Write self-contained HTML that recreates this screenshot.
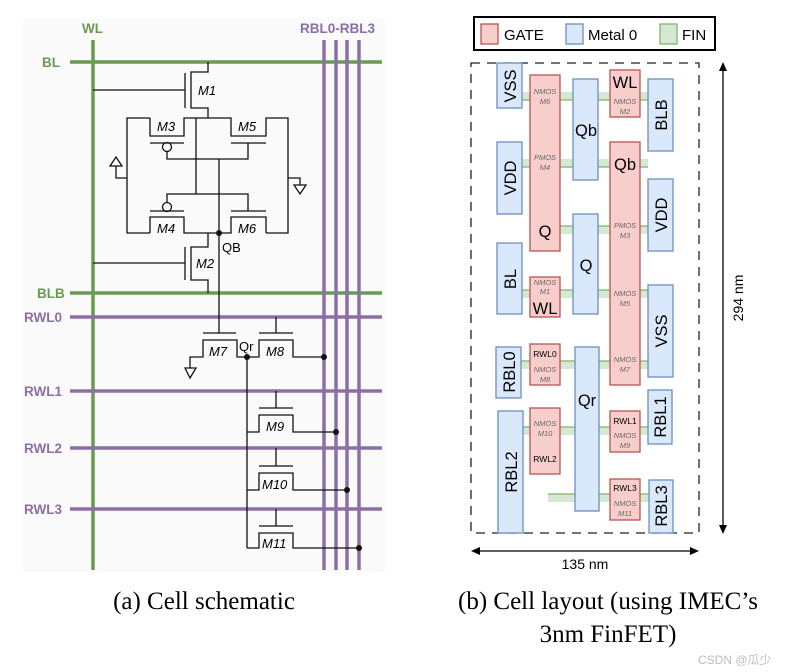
<!DOCTYPE html>
<html><head><meta charset="utf-8"><style>
html,body{margin:0;padding:0;background:#fff;}
svg{display:block;}
.lb{font-family:"Liberation Sans",sans-serif;font-weight:bold;font-size:13.5px;}
.m{font-family:"Liberation Sans",sans-serif;font-style:italic;font-size:13px;}
.t{font-family:"Liberation Sans",sans-serif;}
.g{fill:#f8cecc;stroke:#b85450;stroke-width:1.3;}
.b{fill:#dae8fc;stroke:#6c8ebf;stroke-width:1.3;}
.f{fill:#d5e8d4;}
.fl{stroke:#82b366;stroke-width:1.2;}
.s{font-family:"Liberation Sans",sans-serif;font-style:italic;font-size:7.5px;fill:#666;}
</style></head><body>
<svg width="786" height="672" viewBox="0 0 786 672" xmlns="http://www.w3.org/2000/svg">
<rect x="23" y="18" width="362" height="554" fill="#fafafa"/>
<g stroke="#6b9a52" stroke-width="3.5">
<line x1="93" y1="40" x2="93" y2="570"/>
<line x1="70" y1="62" x2="382" y2="62"/>
<line x1="70" y1="293" x2="382" y2="293"/>
</g>
<g stroke="#8b6fa5" stroke-width="3.5">
<line x1="70" y1="317" x2="382" y2="317"/>
<line x1="70" y1="391" x2="382" y2="391"/>
<line x1="70" y1="448" x2="382" y2="448"/>
<line x1="70" y1="509" x2="382" y2="509"/>
<line x1="324" y1="40" x2="324" y2="570"/>
<line x1="336" y1="40" x2="336" y2="570"/>
<line x1="347" y1="40" x2="347" y2="570"/>
<line x1="359" y1="40" x2="359" y2="570"/>
</g>
<text class="lb" x="82" y="33" fill="#6b9a52">WL</text>
<text class="lb" x="42" y="67" fill="#6b9a52">BL</text>
<text class="lb" x="37" y="298" fill="#6b9a52">BLB</text>
<text class="lb" x="300" y="33" fill="#8b6fa5">RBL0-RBL3</text>
<text class="lb" x="24" y="322" fill="#8b6fa5">RWL0</text>
<text class="lb" x="24" y="396" fill="#8b6fa5">RWL1</text>
<text class="lb" x="24" y="453" fill="#8b6fa5">RWL2</text>
<text class="lb" x="24" y="514" fill="#8b6fa5">RWL3</text>
<g stroke="#111" stroke-width="1.3" fill="none">
<polyline points="208,62 208,72 191,72 191,108 208,108 208,118"/>
<line x1="185" y1="73" x2="185" y2="108"/>
<line x1="93" y1="90" x2="185" y2="90"/>
<polyline points="150,118 127,118 127,233 150,233"/>
<polyline points="150,118 150,136 184,136 184,118 231,118 231,136 266,136 266,118 288,118 288,233 266,233"/>
<line x1="150" y1="143" x2="184" y2="143"/>
<line x1="231" y1="143" x2="266" y2="143"/>
<circle cx="167" cy="147" r="4.5"/>
<polyline points="167,151 167,159 248,159 248,143"/>
<line x1="196" y1="118" x2="196" y2="194"/>
<line x1="219" y1="159" x2="219" y2="333"/>
<polyline points="167,203 167,194 248,194 248,211"/>
<circle cx="167" cy="207" r="4.5"/>
<line x1="150" y1="211" x2="184" y2="211"/>
<line x1="231" y1="211" x2="266" y2="211"/>
<polyline points="150,233 150,217 184,217 184,233 231,233 231,217 266,217 266,233"/>
<polyline points="127,178 116,178 116,166"/>
<polygon points="110,166 122,166 116,157"/>
<polyline points="288,178 300,178 300,185"/>
<polygon points="294,185 306,185 300,194"/>
<polyline points="208,233 208,247 191,247 191,280 208,280 208,293"/>
<line x1="185" y1="247" x2="185" y2="280"/>
<line x1="93" y1="263" x2="185" y2="263"/>
<line x1="203" y1="333" x2="236" y2="333"/>
<polyline points="190,368 190,357 203,357 203,340 237,340 237,357 259,357 259,340 293,340 293,357 324,357"/>
<polygon points="185,368 196,368 190,378"/>
<line x1="276" y1="317" x2="276" y2="333"/>
<line x1="259" y1="333" x2="293" y2="333"/>
<line x1="247" y1="357" x2="247" y2="548"/>
<line x1="276" y1="391" x2="276" y2="408"/><line x1="259" y1="408" x2="293" y2="408"/>
<polyline points="247,432 259,432 259,415 293,415 293,432 336,432"/>
<line x1="276" y1="448" x2="276" y2="466"/><line x1="259" y1="466" x2="293" y2="466"/>
<polyline points="247,490 259,490 259,473 293,473 293,490 347,490"/>
<line x1="276" y1="509" x2="276" y2="526"/><line x1="259" y1="526" x2="293" y2="526"/>
<polyline points="247,548 259,548 259,533 293,533 293,548 359,548"/>
</g>
<g fill="#111">
<circle cx="219" cy="233" r="3"/><circle cx="247" cy="357" r="3"/>
<circle cx="324" cy="357" r="3"/><circle cx="336" cy="432" r="3"/>
<circle cx="347" cy="490" r="3"/><circle cx="359" cy="548" r="3"/>
</g>
<text class="m" x="198" y="95">M1</text>
<text class="m" x="157" y="131">M3</text>
<text class="m" x="238" y="131">M5</text>
<text class="m" x="157" y="233">M4</text>
<text class="m" x="238" y="233">M6</text>
<text class="t" x="222" y="252" font-size="13">QB</text>
<text class="m" x="196" y="268">M2</text>
<text class="m" x="209" y="356">M7</text>
<text class="t" x="239" y="351" font-size="13">Qr</text>
<text class="m" x="266" y="356">M8</text>
<text class="m" x="266" y="431">M9</text>
<text class="m" x="262" y="489">M10</text>
<text class="m" x="262" y="548">M11</text>
<text x="204" y="609" text-anchor="middle" font-family="Liberation Serif,serif" font-size="25">(a) Cell schematic</text>

<rect x="474" y="17" width="241" height="33" fill="#fff" stroke="#000" stroke-width="2"/>
<rect x="481" y="24" width="17" height="20" class="g"/>
<text class="t" x="504" y="40" font-size="15">GATE</text>
<rect x="566" y="24" width="17" height="20" class="b"/>
<text class="t" x="588" y="40" font-size="15">Metal 0</text>
<rect x="660" y="24" width="17" height="20" fill="#d5e8d4" stroke="#82b366" stroke-width="1.3"/>
<text class="t" x="682" y="40" font-size="15">FIN</text>
<rect x="471" y="63" width="228" height="470" fill="none" stroke="#222" stroke-width="1.3" stroke-dasharray="9,7"/>
<g class="f">
<rect x="522" y="92" width="126" height="8"/>
<rect x="522" y="159" width="126" height="8"/>
<rect x="560" y="226" width="88" height="8"/>
<rect x="522" y="290" width="126" height="8"/>
<rect x="521" y="361" width="127" height="8"/>
<rect x="523" y="427" width="125" height="8"/>
<rect x="548" y="494" width="101" height="8"/>
</g>
<g class="fl">
<line x1="522" y1="100" x2="648" y2="100"/><line x1="522" y1="167" x2="648" y2="167"/>
<line x1="560" y1="226" x2="648" y2="226"/><line x1="522" y1="290" x2="648" y2="290"/>
<line x1="521" y1="361" x2="648" y2="361"/><line x1="523" y1="427" x2="648" y2="427"/>
<line x1="548" y1="494" x2="649" y2="494"/>
</g>
<rect class="b" x="497" y="63" width="25" height="45"/>
<rect class="b" x="573" y="79" width="25" height="101"/>
<rect class="b" x="648" y="79" width="25" height="72"/>
<rect class="b" x="497" y="142" width="25" height="72"/>
<rect class="b" x="648" y="179" width="25" height="72"/>
<rect class="b" x="573" y="214" width="25" height="100"/>
<rect class="b" x="497" y="243" width="25" height="71"/>
<rect class="b" x="648" y="285" width="25" height="92"/>
<rect class="b" x="496" y="347" width="25" height="51"/>
<rect class="b" x="575" y="347" width="24" height="164"/>
<rect class="b" x="498" y="411" width="25" height="122"/>
<rect class="b" x="648" y="390" width="24" height="54"/>
<rect class="b" x="649" y="480" width="24" height="53"/>
<rect class="g" x="530" y="75" width="30" height="176"/>
<rect class="g" x="610" y="70" width="30" height="47"/>
<rect class="g" x="610" y="142" width="30" height="243"/>
<rect class="g" x="530" y="277" width="30" height="40"/>
<rect class="g" x="530" y="344" width="30" height="41"/>
<rect class="g" x="530" y="408" width="30" height="66"/>
<rect class="g" x="610" y="411" width="30" height="41"/>
<rect class="g" x="610" y="479" width="30" height="41"/>
<g font-family="Liberation Sans,sans-serif" font-size="16.5" text-anchor="middle">
<text transform="translate(516,86) rotate(-90)">VSS</text>
<text transform="translate(516,178) rotate(-90)">VDD</text>
<text transform="translate(516,279) rotate(-90)">BL</text>
<text transform="translate(515,372) rotate(-90)">RBL0</text>
<text transform="translate(517,472) rotate(-90)">RBL2</text>
<text transform="translate(667,115) rotate(-90)">BLB</text>
<text transform="translate(667,215) rotate(-90)">VDD</text>
<text transform="translate(667,331) rotate(-90)">VSS</text>
<text transform="translate(666,417) rotate(-90)">RBL1</text>
<text transform="translate(667,506) rotate(-90)">RBL3</text>
<text x="586" y="136">Qb</text>
<text x="586" y="271">Q</text>
<text x="587" y="406">Qr</text>
<text x="545" y="237">Q</text>
<text x="545" y="314">WL</text>
<text x="625" y="88">WL</text>
<text x="625" y="170">Qb</text>
</g>
<g font-family="Liberation Sans,sans-serif" font-size="8.5" text-anchor="middle">
<text x="545" y="357">RWL0</text>
<text x="545" y="462">RWL2</text>
<text x="625" y="424">RWL1</text>
<text x="625" y="491">RWL3</text>
</g>
<g class="s" text-anchor="middle">
<text x="545" y="94">NMOS</text><text x="545" y="104">M6</text>
<text x="545" y="160">PMOS</text><text x="545" y="170">M4</text>
<text x="545" y="285">NMOS</text><text x="545" y="294">M1</text>
<text x="545" y="372">NMOS</text><text x="545" y="382">M8</text>
<text x="545" y="426">NMOS</text><text x="545" y="436">M10</text>
<text x="625" y="104">NMOS</text><text x="625" y="114">M2</text>
<text x="625" y="228">PMOS</text><text x="625" y="238">M3</text>
<text x="625" y="296">NMOS</text><text x="625" y="306">M5</text>
<text x="625" y="362">NMOS</text><text x="625" y="372">M7</text>
<text x="625" y="438">NMOS</text><text x="625" y="448">M9</text>
<text x="625" y="506">NMOS</text><text x="625" y="516">M11</text>
</g>
<g stroke="#000" stroke-width="1.3" fill="#000">
<line x1="476" y1="551" x2="695" y2="551"/>
<polygon points="471,551 480,547 480,555" stroke="none"/>
<polygon points="699,551 690,547 690,555" stroke="none"/>
<line x1="723" y1="67" x2="723" y2="529"/>
<polygon points="723,62 719,71 727,71" stroke="none"/>
<polygon points="723,534 719,525 727,525" stroke="none"/>
</g>
<text class="t" x="585" y="569" font-size="14" text-anchor="middle">135 nm</text>
<text class="t" font-size="14" text-anchor="middle" transform="translate(743,298) rotate(-90)">294 nm</text>
<text x="608" y="609" text-anchor="middle" font-family="Liberation Serif,serif" font-size="25">(b) Cell layout (using IMEC’s</text>
<text x="608" y="642" text-anchor="middle" font-family="Liberation Serif,serif" font-size="25">3nm FinFET)</text>
<text x="698" y="664" font-family="Liberation Sans,'Noto Sans CJK SC',sans-serif" font-size="12" fill="#bbb">CSDN @瓜少</text>
</svg>
</body></html>
